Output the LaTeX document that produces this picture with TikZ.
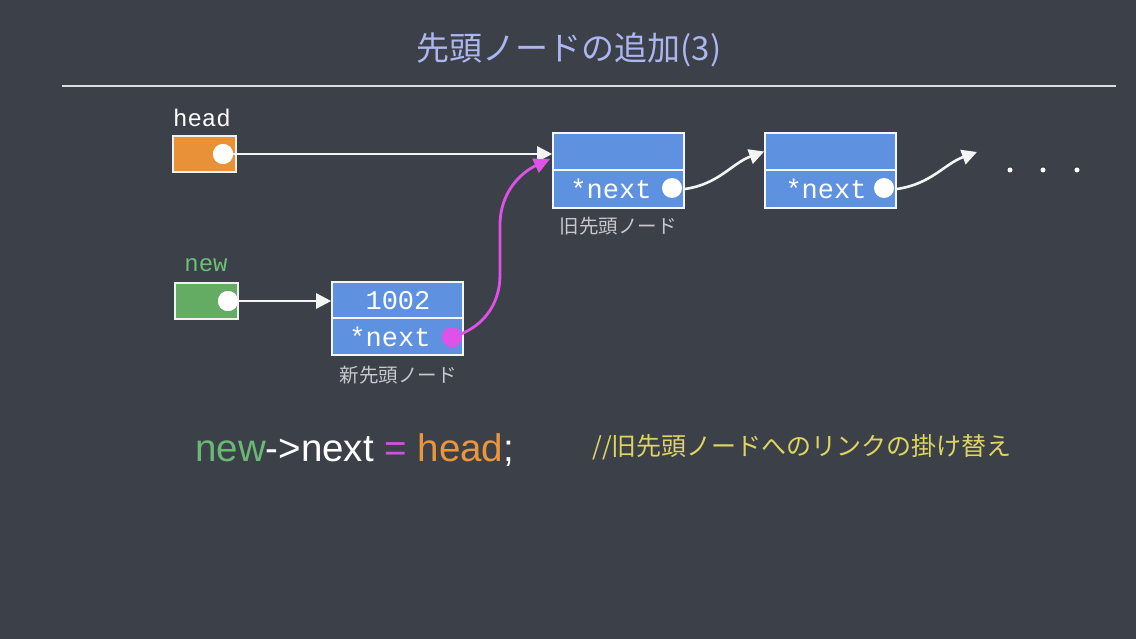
\documentclass[tikz,border=0pt]{standalone}
\usepackage{fontspec}
\setmainfont{Liberation Sans}
\newfontfamily\jp{Noto Sans CJK JP}
\newfontfamily\mono{Liberation Mono}
\usetikzlibrary{arrows.meta}
\definecolor{bg}{RGB}{60,64,72}
\definecolor{titlec}{RGB}{172,182,240}
\definecolor{cellblue}{RGB}{95,145,225}
\definecolor{headorange}{RGB}{232,145,55}
\definecolor{boxgreen}{RGB}{100,172,100}
\definecolor{labgreen}{RGB}{110,190,120}
\definecolor{pinkc}{RGB}{222,82,232}
\definecolor{graytext}{RGB}{200,200,204}
\definecolor{cmtyellow}{RGB}{222,212,96}
\definecolor{codeorange}{RGB}{236,150,60}
\definecolor{codegreen}{RGB}{105,185,115}
\definecolor{codepink}{RGB}{210,80,225}
\tikzset{
  cell/.style={draw=white!92!cellblue, line width=1.6pt, fill=cellblue, minimum width=131pt, inner sep=0pt},
  ptr/.style={draw=white!92!bg, line width=1.6pt, minimum width=63pt, minimum height=36pt, inner sep=0pt},
  dot/.style={circle, fill=white, minimum size=20pt, inner sep=0pt},
  pinkdot/.style={circle, fill=pinkc, minimum size=20pt, inner sep=0pt},
  smalldot/.style={circle, fill=white, minimum size=5pt, inner sep=0pt},
  tt/.style={text=white, font=\mono\fontsize{27}{27}\selectfont, inner sep=0pt},
  varlab/.style={font=\mono\fontsize{24}{24}\selectfont, inner sep=0pt},
  caption/.style={text=graytext, font=\jp\fontsize{19.5}{19.5}\selectfont, inner sep=0pt},
  wire/.style={draw=white!94!bg, line width=2.6pt, -{Triangle[length=15pt,width=15pt]}},
  pinkwire/.style={draw=pinkc, line width=2.8pt, -{Triangle[length=16pt,width=15pt]}},
}
\begin{document}
\begin{tikzpicture}[x=1pt,y=-1pt]
\fill[bg] (0,0) rectangle (1136,639);
\useasboundingbox (0,0) rectangle (1136,639);

% title
\node[text=titlec, font=\jp\fontsize{33}{33}\selectfont, inner sep=0pt] (title) at (569,50) {先頭ノードの追加(3)};
\draw[draw=white!82!bg, line width=2.4pt] (62,86) -- (1116,86);

% head pointer
\node[varlab, text=white] (headlab) at (202,118) {head};
\node[ptr, fill=headorange] (headbox) at (204.5,154) {};
\node[dot] (headdot) at (223,154) {};

% new pointer
\node[varlab, text=labgreen] (newlab) at (206,265) {new};
\node[ptr, fill=boxgreen] (newbox) at (206.5,301) {};
\node[dot] (newdot) at (228,301) {};

% new node
\node[cell, minimum height=36pt] (n1top) at (397.5,300) {};
\node[cell, minimum height=37pt] (n1bot) at (397.5,336.5) {};
\node[tt] (n1val) at (398,301) {1002};
\node[tt] (n1txt) at (390,337) {*next};
\node[pinkdot] (n1dot) at (452,337) {};
\node[caption] (n1cap) at (398,375) {新先頭ノード};

% old head node
\node[cell, minimum height=37pt] (o1top) at (618.5,151.5) {};
\node[cell, minimum height=38pt] (o1bot) at (618.5,189) {};
\node[tt] (o1txt) at (611,189) {*next};
\node[caption] (o1cap) at (618,226) {旧先頭ノード};

% second node
\node[cell, minimum height=37pt] (o2top) at (830.5,151.5) {};
\node[cell, minimum height=38pt] (o2bot) at (830.5,189) {};
\node[tt] (o2txt) at (826,189) {*next};

% dots
\node[smalldot] (d1) at (1010,170) {};
\node[smalldot] (d2) at (1043,170) {};
\node[smalldot] (d3) at (1077,170) {};

% connectors
\coordinate (tail) at (977,152);
\coordinate (pmid1) at (500,275);
\coordinate (pmid2) at (500,225);
\coordinate (ptip) at (550,159);
\draw[wire] (headdot.center) -- (headdot -| o1top.west);
\draw[wire] (newdot.center) -- (newdot -| n1top.west);
\draw[wire] (o1bot.east |- o1txt) to[out=8,in=200] (o2top.west);
\draw[wire] (o2bot.east |- o2txt) to[out=8,in=200] (tail);
\draw[pinkwire] (n1dot.center) to[out=15,in=270] (pmid1) -- (pmid2) to[out=90,in=205] (ptip);

\node[dot] (o1dot) at (672,188) {};
\node[dot] (o2dot) at (884,188) {};
\node[dot] at (headdot) {};
\node[dot] at (newdot) {};
\node[pinkdot] at (n1dot) {};

% code line
\node[anchor=west, text=white, font=\fontsize{38.5}{38.5}\selectfont, inner sep=0pt] (code) at (195,450)
  {\textcolor{codegreen}{new}->next \textcolor{codepink}{=} \textcolor{codeorange}{head};};
\node[anchor=west, text=cmtyellow, font=\jp\fontsize{25}{25}\selectfont, inner sep=0pt] (cmt) at (592,447)
  {//旧先頭ノードへのリンクの掛け替え};
\end{tikzpicture}
\end{document}
